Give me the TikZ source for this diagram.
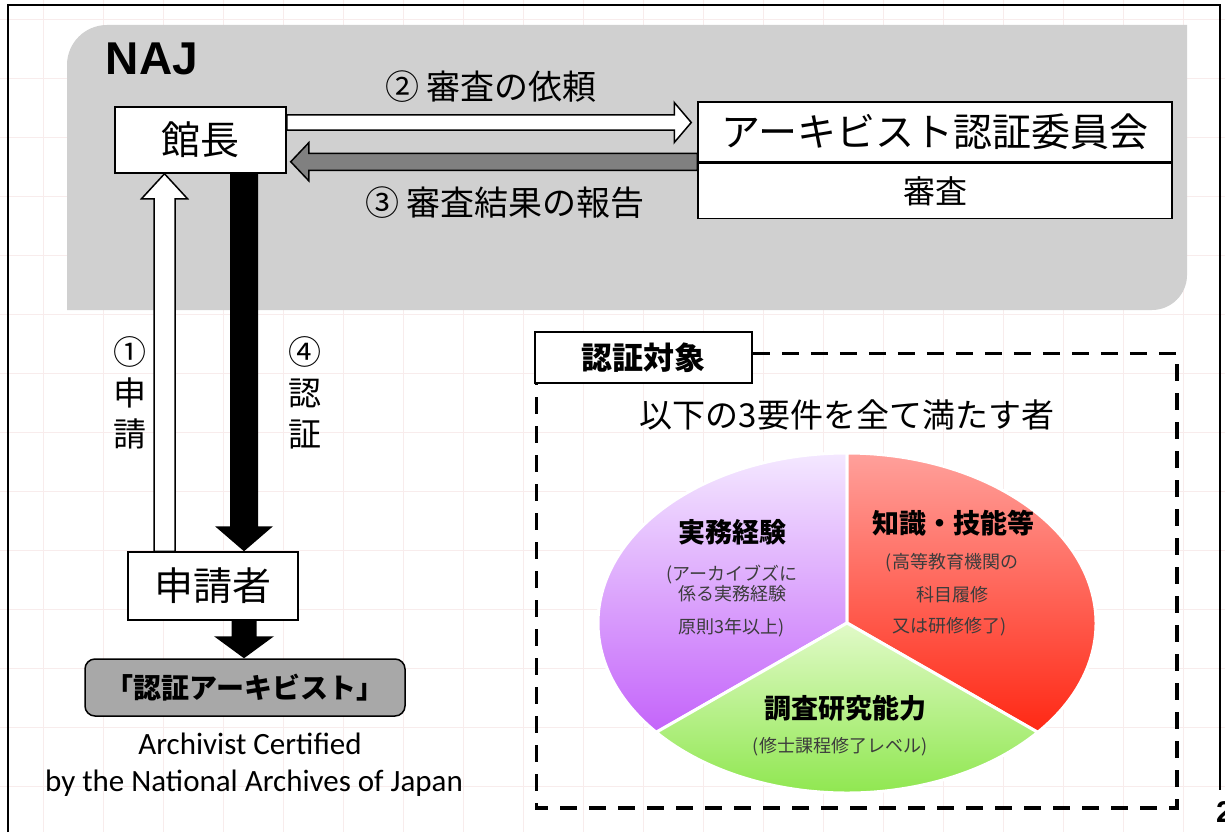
\documentclass[tikz,border=0pt]{standalone}
\usepackage{fontspec}
\newfontfamily\jp{Noto Sans CJK JP}
\newfontfamily\en{Carlito}
\newfontfamily\naj{Liberation Sans}
\usetikzlibrary{calc}

\definecolor{najgray}{RGB}{208,208,208}
\definecolor{certgray}{RGB}{168,168,168}
\definecolor{backgray}{RGB}{128,128,128}
\definecolor{gridpink}{RGB}{248,236,236}
\definecolor{subgray}{RGB}{60,60,60}

\newcommand{\fsz}[2]{\fontsize{#1}{#2}\selectfont}

% block arrow: style, from, to, half shaft, half head, head length
\newcommand{\blockarrow}[6]{%
  \path[#1] let \p1=(#2), \p2=(#3),
    \n1={atan2(\y2-\y1,\x2-\x1)}, \n2={veclen(\x2-\x1,\y2-\y1)} in
    ($(\p1)+({\n1+90}:#4pt)$) -- ($(\p1)+(\n1:{\n2-#6pt})+({\n1+90}:#4pt)$)
    -- ($(\p1)+(\n1:{\n2-#6pt})+({\n1+90}:#5pt)$) -- (\p2)
    -- ($(\p1)+(\n1:{\n2-#6pt})+({\n1-90}:#5pt)$)
    -- ($(\p1)+(\n1:{\n2-#6pt})+({\n1-90}:#4pt)$)
    -- ($(\p1)+({\n1-90}:#4pt)$) -- cycle;}

\begin{document}
\begin{tikzpicture}[x=1pt, y=-1pt,
  box/.style={draw, line width=1.5pt, fill=white, inner sep=0pt, font=\jp\fsz{39}{44}},
  hollow/.style={draw, line width=1.5pt, fill=white},
  backarr/.style={draw, line width=1.5pt, fill=backgray},
  solidarr/.style={fill=black},
  lbl/.style={font=\jp\fsz{34}{40}},
  vlbl/.style={font=\jp\fsz{33}{41}, align=center, inner sep=0pt},
  pietitle/.style={font=\jp\bfseries\fsz{27}{32}},
  piesub/.style={font=\jp\fsz{18}{22}, text=subgray, inner sep=0pt},
  dashframe/.style={line width=3.5pt, dash pattern=on 17pt off 12pt},
  gridline/.style={gridpink, line width=0.8pt}]
\useasboundingbox (0,0) rectangle (1225,832);
\fill[white] (0,0) rectangle (1225,832);

% background grid
\foreach \gx in {43,103,...,1225} \draw[gridline] (\gx,0) -- (\gx,832);
\foreach \gy in {19,78,...,832} \draw[gridline] (0,\gy) -- (1225,\gy);

% NAJ area
\fill[najgray] (67,310) -- (67,65) arc[start angle=180, end angle=90, radius=40pt]
  -- (1187,25) -- (1187,275) arc[start angle=0, end angle=-90, radius=35pt] -- cycle;
\draw[line width=1.5pt] (8,832) -- (8,5) -- (1220,5) -- (1220,790);
\node[font=\naj\bfseries\fsz{46}{50}] (najlabel) at (152,59) {NAJ};

\node[box, minimum width=171, minimum height=66] (dir) at (200.5,140) {館長};
\node[box, minimum width=474, minimum height=60] (com) at (935,132) {アーキビスト認証委員会};
\node[box, minimum width=474, minimum height=55, anchor=north, font=\jp\fsz{32}{36}] (exam) at (com.south) {審査};
\node[box, minimum width=170, minimum height=68] (app) at (213,586) {申請者};
\node[box, rounded corners=10pt, fill=certgray, minimum width=320, minimum height=57,
  font=\jp\bfseries\fsz{28}{32}] (cert) at (245,687.5) {「認証アーキビスト」};

% arrows
\coordinate (r2s) at ($(dir.east)+(0,-17.5)$);
\coordinate (r2e) at ($(com.west |- r2s)+(-6,0)$);
\blockarrow{hollow}{r2s}{r2e}{7.5}{20}{17}
\coordinate (r3s) at ($(com.south west)+(0,-1)$);
\coordinate (r3e) at ($(dir.east |- r3s)+(4,0)$);
\blockarrow{backarr}{r3s}{r3e}{8.5}{19}{18}
\coordinate (r1s) at ($(app.north)+(-48.5,0)$);
\coordinate (r1e) at (r1s |- dir.south);
\blockarrow{hollow}{r1s}{r1e}{10.5}{23}{25}
\coordinate (r4s) at ($(dir.south)+(43.5,0)$);
\coordinate (r4e) at (r4s |- app.north);
\blockarrow{solidarr}{r4s}{r4e}{14}{29}{25}
\coordinate (r5s) at ($(app.south)+(31,0)$);
\coordinate (r5e) at (r5s |- cert.north);
\blockarrow{solidarr}{r5s}{r5e}{12.5}{30}{22}

\node[lbl] (req) at (491,87) {② 審査の依頼};
\node[lbl] (rep) at (505,203) {③ 審査結果の報告};
\node[vlbl] (apl) at (130,393) {①\\申\\請};
\node[vlbl] (crl) at (305,393) {④\\認\\証};

\node[font=\en\fsz{31}{36}] (engl1) at (250,744) {Archivist Certified};
\node[font=\en\fsz{31}{36}] (engl2) at (254,783) {by the National Archives of Japan};

% requirements
\node[box, font=\jp\bfseries\fsz{31}{36}, minimum width=217, minimum height=51] (target) at (643.5,357.5) {認証対象};
\draw[dashframe] ($(target.east)+(0,-4)$) -| (1177,808) -| ($(target.south west)+(2,0)$);
\node[font=\jp\fsz{33}{38}] (cond) at (847,415) {以下の3要件を全て満たす者};

\coordinate (pc) at (847,623);
\path[draw=white, line width=3pt, top color={rgb,255:red,244;green,232;blue,255}, bottom color={rgb,255:red,196;green,100;blue,250}]
  (pc) -- ++(90:249pt and 170pt) arc[start angle=90, end angle=220, x radius=249pt, y radius=170pt] -- cycle;
\path[draw=white, line width=3pt, top color={rgb,255:red,255;green,160;blue,155}, bottom color={rgb,255:red,255;green,40;blue,20}]
  (pc) -- ++(-40:249pt and 170pt) arc[start angle=-40, end angle=90, x radius=249pt, y radius=170pt] -- cycle;
\path[draw=white, line width=3pt, top color={rgb,255:red,225;green,250;blue,200}, bottom color={rgb,255:red,140;green,230;blue,75}]
  (pc) -- ++(220:249pt and 170pt) arc[start angle=220, end angle=320, x radius=249pt, y radius=170pt] -- cycle;

\node[pietitle] (prac) at (732,532) {実務経験};
\node[piesub] (prac1) at (732,575) {(アーカイブズに};
\node[piesub] (prac2) at (732,594) {係る実務経験};
\node[piesub] (prac3) at (732,628) {原則3年以上)};
\node[pietitle] (know) at (953,523) {知識・技能等};
\node[piesub] (know1) at (952,563) {(高等教育機関の};
\node[piesub] (know2) at (952,595) {科目履修};
\node[piesub] (know3) at (950,627) {又は研修修了)};
\node[pietitle] (rsch) at (845,708) {調査研究能力};
\node[piesub] (rsch1) at (840,747) {(修士課程修了レベル)};

\node[font=\naj\bfseries\fsz{30}{34}, anchor=west, inner sep=0pt] (pagenum) at (1216,812) {2};
\end{tikzpicture}
\end{document}
